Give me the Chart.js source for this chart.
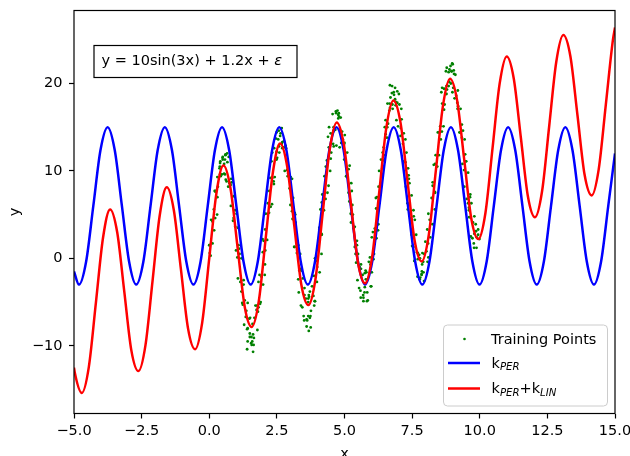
<!DOCTYPE html>
<html><head><meta charset="utf-8">
<script src="https://cdn.jsdelivr.net/npm/chart.js@4"></script>
<style>html,body{margin:0;padding:0;background:#fff}</style>
</head><body>
<canvas id="c" width="630" height="456" style="width:630px;height:456px;display:block"></canvas>
<script>
const xTicks = [-5, -2.5, 0, 2.5, 5, 7.5, 10, 12.5, 15];
const yTicks = [-10, 0, 10, 20];

const perX = [-5, -4.815, -4.551, -4.286, -4.022, -3.757, -3.493, -3.229, -2.964, -2.700, -2.435, -2.171, -1.907, -1.642, -1.378, -1.114, -0.849, -0.585, -0.320, -0.056, 0.209, 0.473, 0.737, 1.002, 1.266, 1.531, 1.795, 2.059, 2.324, 2.588, 2.853, 3.117, 3.381, 3.646, 3.910, 4.175, 4.439, 4.703, 4.968, 5.232, 5.497, 5.761, 6.025, 6.290, 6.554, 6.819, 7.083, 7.347, 7.612, 7.876, 8.141, 8.405, 8.669, 8.934, 9.198, 9.463, 9.727, 9.991, 10.256, 10.520, 10.785, 11.049, 11.313, 11.578, 11.842, 12.107, 12.371, 12.635, 12.900, 13.164, 13.429, 13.693, 13.957, 14.222, 14.486, 14.751, 15];
const perY = [-1.5,
  -3.0, -0.36, 6, 12.36, 15, 12.36, 6, -0.36,
  -3.0, -0.36, 6, 12.36, 15, 12.36, 6, -0.36,
  -3.0, -0.36, 6, 12.36, 15, 12.36, 6, -0.36,
  -3.0, -0.36, 6, 12.36, 15, 12.36, 6, -0.36,
  -3.0, -0.36, 6, 12.36, 15, 12.36, 6, -0.36,
  -3.0, -0.36, 6, 12.36, 15, 12.36, 6, -0.36,
  -3.0, -0.36, 6, 12.36, 15, 12.36, 6, -0.36,
  -3.0, -0.36, 6, 12.36, 15, 12.36, 6, -0.36,
  -3.0, -0.36, 6, 12.36, 15, 12.36, 6, -0.36,
  -3.0, -0.36, 6,
  12.0];

const linX = [-5, -4.974, -4.712, -4.451, -4.189, -3.927, -3.665, -3.403, -3.142, -2.880, -2.618, -2.356, -2.094, -1.833, -1.571, -1.309, -1.047, -0.785, -0.524, -0.262, 0, 0.262, 0.524, 0.785, 1.047, 1.309, 1.571, 1.833, 2.094, 2.356, 2.618, 2.880, 3.142, 3.403, 3.665, 3.927, 4.189, 4.451, 4.712, 4.974, 5.236, 5.498, 5.760, 6.021, 6.283, 6.545, 6.807, 7.069, 7.330, 7.592, 7.854, 8.116, 8.378, 8.639, 8.901, 9.163, 9.425, 9.687, 9.948, 10.210, 10.472, 10.734, 10.996, 11.257, 11.519, 11.781, 12.043, 12.305, 12.566, 12.828, 13.090, 13.352, 13.614, 13.875, 14.137, 14.399, 14.661, 14.923, 15];
const linY = [-12.50, -13.04, -15.4, -12.41, -5.03, 2.36, 5.60, 2.99, -3.77, -10.53, -12.9, -9.90, -2.51, 4.87, 8.12, 5.50, -1.26, -8.01, -10.4, -7.38, 0, 7.38, 10.63, 8.01, 1.26, -5.50, -7.85, -4.87, 2.51, 9.90, 13.14, 10.53, 3.77, -2.99, -5.35, -2.36, 5.03, 12.41, 15.55, 13.04, 6.28, -0.47, -2.85, 0.16, 7.54, 14.92, 18.05, 15.55, 8.80, 2.04, -0.35, 2.67, 10.05, 17.44, 20.55, 18.07, 11.31, 4.55, 2.2, 5.18, 12.57, 19.95, 23.1, 20.58, 13.82, 7.07, 4.7, 7.70, 15.08, 22.46, 25.55, 23.09, 16.34, 9.58, 7.2, 10.21, 17.59, 24.98, 26.4];

const trainX = [
  0.05,0.00,0.22,0.17,0.32,0.24,0.41,0.40,0.60,0.55,0.72,0.64,0.83,0.80,1.01,0.96,0.99,1.19,1.15,1.31,1.22,1.42,1.40,1.57,1.50,1.67,1.62,1.82,1.77,1.99,1.93,2.07,
  2.14,2.09,2.32,2.26,2.42,2.33,2.51,2.49,2.70,2.64,2.82,2.73,2.92,2.90,3.10,3.06,3.08,3.29,3.24,3.41,3.31,3.52,3.49,3.66,3.60,3.76,3.72,3.91,3.87,4.08,4.03,4.16,
  4.24,4.18,4.41,4.35,4.51,4.43,4.60,4.59,4.79,4.74,4.91,4.83,5.01,4.99,5.19,5.15,5.18,5.38,5.34,5.50,5.41,5.61,5.59,5.75,5.69,5.86,5.81,6.01,5.96,6.18,6.12,6.26,
  6.33,6.28,6.50,6.45,6.61,6.52,6.70,6.68,6.89,6.83,7.01,6.92,7.11,7.08,7.29,7.25,7.27,7.48,7.43,7.60,7.50,7.71,7.68,7.85,7.78,7.95,7.91,8.10,8.06,8.27,8.22,8.35,
  8.43,8.37,8.60,8.54,8.70,8.61,8.79,8.78,8.98,8.93,9.10,9.02,9.20,9.18,9.38,9.34,9.36,9.57,9.52,9.69,9.60,9.80,9.78,9.94,9.88,
  0.01,0.18,0.12,0.30,0.20,0.39,0.38,0.58,0.49,0.66,0.61,0.81,0.79,0.96,0.90,1.08,1.12,1.06,1.27,1.24,1.42,1.35,1.56,1.51,1.65,1.59,1.80,1.75,1.90,1.86,2.06,1.97,
  2.07,2.27,2.22,2.39,2.30,2.49,2.47,2.68,2.58,2.76,2.70,2.91,2.88,3.06,3.00,3.18,3.22,3.15,3.37,3.33,3.52,3.44,3.66,3.60,3.75,3.68,3.90,3.85,3.99,3.96,4.15,4.07,
  4.16,4.37,4.31,4.49,4.39,4.58,4.56,4.77,4.68,4.85,4.80,5.00,4.98,5.15,5.09,5.27,5.31,5.24,5.46,5.43,5.61,5.54,5.75,5.70,5.84,5.78,5.99,5.94,6.09,6.05,6.25,6.16,
  6.26,6.46,6.41,6.58,6.49,6.67,6.66,6.87,6.77,6.95,6.89,7.10,7.07,7.25,7.18,7.37,7.40,7.34,7.56,7.52,7.71,7.63,7.85,7.79,7.94,7.87,8.09,8.03,8.18,8.15,8.34,8.26,
  8.35,8.56,8.50,8.68,8.58,8.77,8.75,8.96,8.87,9.04,8.99,9.19,9.17,9.34,9.28,9.46,9.50,9.43,9.65,9.61,9.80,9.73,9.94,9.89,
  1.40,1.62,1.55,1.50,3.68,3.62,3.72,3.66,4.60,4.70,4.82,5.70,5.74,8.92,8.85,9.00,6.82,6.75,2.62,2.55,0.50,0.55,7.80,7.86,9.85,9.60,0.42,0.60,
  0.02,0.12,0.07,0.29,0.23,0.40,0.30,0.50,0.47,0.67,0.58,0.75,0.70,0.91,0.88,1.06,1.10,1.04,1.27,1.19,1.37,1.29,1.48,1.42,1.64,1.60,1.78,1.71,1.88,1.82,2.05,1.98,
  2.01,2.21,2.17,2.38,2.33,2.49,2.40,2.59,2.57,2.76,2.68,2.84,2.79,3.01,2.97,3.16,3.19,3.14,3.36,3.29,3.46,3.39,3.57,3.51,3.74,3.69,3.88,3.80,3.98,3.91,4.15,4.07,
  4.11,4.30,4.26,4.47,4.42,4.59,4.49,4.69,4.66,4.86,4.77,4.94,4.88,5.10,5.06,5.25,5.29,5.23,5.46,5.38,5.56,5.48,5.67,5.60,5.83,5.79,5.97,5.90,6.07,6.01,6.24,6.17,
  6.20,6.40,6.35,6.57,6.52,6.68,6.59,6.78,6.76,6.95,6.87,7.03,6.98,7.19,7.16,7.35,7.38,7.33,7.55,7.48,7.65,7.58,7.76,7.70,7.92,7.88,8.07,7.99,8.17,8.10,8.34,8.26,
  8.30,8.49,8.45,8.66,8.61,8.77,8.68,8.88,8.85,9.05,8.96,9.13,9.07,9.29,9.25,9.44,9.47,9.42,9.64,9.57,9.75,9.67,9.86,9.79,9.99
];
const trainY = [
  0.3,1.5,4.6,5.6,8.2,7.6,11.1,10.9,11.8,9.7,11.6,8.8,8.7,6.0,5.1,3.6,0.9,0.0,-2.7,-4.8,-5.1,-8.0,-8.1,-9.9,-9.0,-6.8,-8.7,-5.6,-5.4,-3.0,-2.1,0.9,
  2.1,5.1,6.2,9.2,9.3,12.1,11.5,14.4,12.6,14.3,12.9,12.7,9.7,9.4,6.9,5.4,4.5,1.5,0.6,-1.4,-3.9,-3.4,-6.6,-5.0,-7.8,-6.0,-3.8,-4.9,-2.0,-1.6,1.5,2.7,
  5.5,7.3,8.3,11.2,12.1,15.0,15.0,14.5,16.6,16.9,14.5,14.7,14.1,11.3,10.6,7.5,6.5,3.6,3.4,0.5,0.5,-1.2,-3.7,-1.7,-4.2,-4.8,-1.6,-1.6,-0.7,2.3,3.4,6.2,
  7.3,10.0,11.8,12.7,15.4,15.8,18.4,19.8,17.9,18.7,18.8,15.8,15.9,14.9,12.1,11.0,8.2,7.2,4.6,4.4,1.4,-0.1,0.7,-1.9,-2.4,0.5,-0.4,0.1,3.3,3.9,6.9,7.5,
  10.5,11.8,14.5,15.1,17.6,19.5,19.3,21.8,22.3,20.0,21.0,19.5,17.4,17.1,14.6,13.8,10.8,9.8,6.8,6.3,5.5,2.8,1.7,2.7,1.2,
  1.5,3.2,4.2,7.0,7.7,10.5,10.3,9.6,11.5,12.0,9.0,9.1,8.4,5.5,4.6,1.5,0.5,-2.3,-2.5,-5.3,-5.1,-6.7,-9.0,-6.8,-9.1,-9.5,-6.1,-5.9,-5.0,-1.9,-0.7,2.2,
  3.3,5.9,7.7,8.5,11.1,11.3,13.7,14.9,12.8,13.4,13.3,10.2,10.1,9.1,6.1,5.0,2.2,1.3,-1.2,-1.4,-4.2,-5.6,-4.6,-7.0,-7.9,-4.2,-4.9,-4.3,-1.0,-0.3,2.8,3.5,
  6.4,7.5,10.5,11.4,13.9,13.1,16.5,16.0,16.8,14.5,16.2,13.2,13.0,10.2,9.3,7.7,5.0,4.1,1.5,-0.5,-0.7,-3.4,-3.3,-4.9,-3.9,-1.4,-3.2,0.1,0.5,3.0,3.9,6.9,
  8.2,11.2,12.1,15.0,15.0,17.7,16.9,19.5,17.6,19.1,17.5,17.1,14.0,13.6,11.1,9.5,8.6,5.6,4.8,3.0,0.6,1.3,-1.8,0.0,-2.6,-0.7,1.7,0.8,3.9,4.4,7.6,8.7,
  10.8,13.6,14.4,17.0,19.0,18.8,21.4,21.4,20.2,21.5,19.0,19.2,17.8,15.3,14.4,11.9,11.1,8.2,7.3,4.7,4.8,2.3,3.3,2.4,
  -10.4,-10.7,-9.7,-8.6,-8.3,-7.1,-6.8,-6.6,12.8,12.9,12.7,-4.5,-3.9,22.0,21.3,22.2,19.0,18.9,14.0,13.6,11.3,10.8,-2.2,-1.5,3.9,5.8,9.4,11.9,
  0.6,1.7,4.4,5.0,7.7,9.6,9.3,11.6,9.6,11.0,11.3,8.6,8.2,7.1,4.3,3.5,1.1,0.1,-3.0,-3.8,-6.0,-7.6,-6.9,-9.5,-9.9,-7.5,-8.2,-5.4,-5.2,-2.7,-1.9,0.7,
  2.0,5.2,6.3,8.8,9.2,12.2,12.6,12.1,14.6,12.7,13.1,12.6,10.0,9.3,8.0,5.2,4.1,1.3,0.5,-2.4,-2.3,-5.4,-4.6,-7.1,-6.6,-4.4,-5.4,-3.2,-2.7,0.0,0.5,3.3,
  5.6,6.8,9.4,10.0,12.7,14.6,14.3,16.6,14.7,16.1,16.4,13.6,13.2,12.1,9.4,8.6,6.1,5.1,2.0,1.3,-1.0,-2.5,-1.9,-4.5,-4.9,-2.4,-3.2,-0.4,-0.1,2.4,3.2,5.7,
  7.0,10.3,11.3,13.8,14.2,17.2,17.7,17.1,19.7,17.8,18.2,17.6,15.1,14.3,13.1,10.3,9.1,6.3,5.5,2.7,2.7,-0.3,0.4,-2.1,-1.6,0.6,-0.4,1.9,2.4,5.1,5.6,8.3,
  10.7,11.8,14.4,15.1,17.7,19.7,19.4,21.6,19.7,21.1,21.4,18.6,18.3,17.1,14.4,13.6,11.1,10.1,7.0,6.3,4.1,2.5,3.1,1.2,2.2
];

const FONT = '"DejaVu Sans", sans-serif';
const FS = 14.5;
const SUB = 10.2;
Chart.defaults.font.family = FONT;
Chart.defaults.font.size = FS;
Chart.defaults.color = '#000';

const pts = (xs, ys) => xs.map((x, i) => ({x: x, y: ys[i]}));
const minus = s => String(s).replace('-', '\u2212');

function drawParts(ctx, x, y, parts) {
  let cx = x;
  for (const [t, sub] of parts) {
    ctx.font = sub ? `italic ${SUB}px ${FONT}` : `${FS}px ${FONT}`;
    ctx.fillText(t, cx, sub ? y + 2.6 : y);
    cx += ctx.measureText(t).width;
  }
}

const decor = {
  id: 'decor',
  afterDatasetsDraw(chart) {
    const {ctx, chartArea: a} = chart;
    ctx.save();
    ctx.strokeStyle = '#000';
    ctx.lineWidth = 1.2;
    ctx.strokeRect(a.left, a.top, a.right - a.left, a.bottom - a.top);
    ctx.restore();
  },
  afterDraw(chart) {
    const {ctx, chartArea: a} = chart;
    ctx.save();
    const bx = a.left + 20, by = a.top + 35;
    ctx.fillStyle = '#fff';
    ctx.fillRect(bx, by, 203, 32);
    ctx.strokeStyle = '#000';
    ctx.lineWidth = 1.2;
    ctx.strokeRect(bx, by, 203, 32);
    ctx.fillStyle = '#000';
    ctx.textBaseline = 'alphabetic';
    ctx.textAlign = 'left';
    ctx.font = `${FS}px ${FONT}`;
    const main = 'y = 10sin(3x) + 1.2x + ';
    ctx.fillText(main, bx + 7.5, by + 19.5);
    const w = ctx.measureText(main).width;
    ctx.font = `italic ${FS}px ${FONT}`;
    ctx.fillText('\u03B5', bx + 7.5 + w, by + 19.5);

    const lx = a.right - 172, ly = a.bottom - 89, lw = 164, lh = 81;
    ctx.beginPath();
    ctx.roundRect(lx + 0.5, ly + 0.5, lw, lh, 4);
    ctx.fillStyle = 'rgba(255,255,255,0.8)';
    ctx.fill();
    ctx.strokeStyle = '#cccccc';
    ctx.lineWidth = 1;
    ctx.stroke();

    const rows = [ly + 14.5, ly + 38.5, ly + 64];
    ctx.fillStyle = '#008000';
    ctx.beginPath();
    ctx.arc(lx + 21.5, rows[0], 1.3, 0, Math.PI * 2);
    ctx.fill();
    ctx.lineWidth = 2.5;
    ctx.strokeStyle = '#0000ff';
    ctx.beginPath(); ctx.moveTo(lx + 5, rows[1]); ctx.lineTo(lx + 37, rows[1]); ctx.stroke();
    ctx.strokeStyle = '#ff0000';
    ctx.beginPath(); ctx.moveTo(lx + 5, rows[2]); ctx.lineTo(lx + 37, rows[2]); ctx.stroke();

    ctx.fillStyle = '#000';
    ctx.font = `${FS}px ${FONT}`;
    ctx.fillText('Training Points', lx + 48, rows[0] + 5);
    drawParts(ctx, lx + 48.5, rows[1] + 4.5, [['k', false], ['PER', true]]);
    drawParts(ctx, lx + 48.5, rows[2] + 4.5, [['k', false], ['PER', true], ['+', false], ['k', false], ['LIN', true]]);
    ctx.restore();
  }
};

new Chart(document.getElementById('c'), {
  type: 'line',
  data: {
    datasets: [
      {label: 'kPER+kLIN', data: pts(linX, linY), borderColor: '#ff0000', borderWidth: 2.5,
       pointRadius: 0, cubicInterpolationMode: 'monotone', fill: false, clip: 0, order: 1},
      {label: 'kPER', data: pts(perX, perY), borderColor: '#0000ff', borderWidth: 2.5,
       pointRadius: 0, cubicInterpolationMode: 'monotone', fill: false, clip: 0, order: 2},
      {label: 'Training Points', data: pts(trainX, trainY), showLine: false,
       backgroundColor: '#008000', borderColor: '#008000', borderWidth: 0,
       pointRadius: 1.4, pointStyle: 'circle', order: 3}
    ]
  },
  options: {
    responsive: false,
    animation: false,
    devicePixelRatio: 1,
    events: [],
    layout: {padding: {left: 0, right: 15, top: 10.5, bottom: 0}},
    plugins: {legend: {display: false}, tooltip: {enabled: false}},
    scales: {
      x: {
        type: 'linear', min: -5, max: 15,
        afterBuildTicks: s => { s.ticks = xTicks.map(v => ({value: v})); },
        afterFit: s => { s.height = 42.5; s.paddingLeft = 0; s.paddingRight = 0; },
        ticks: {padding: 4, maxRotation: 0, autoSkip: false, callback: v => minus(v.toFixed(1))},
        grid: {display: true, drawOnChartArea: false, drawTicks: true, tickLength: 5, tickColor: '#000', tickWidth: 1.2},
        border: {display: false},
        title: {display: true, text: 'x', padding: {top: 0, bottom: -7}, font: {size: FS}}
      },
      y: {
        type: 'linear', min: -17.75, max: 28.35,
        afterBuildTicks: s => { s.ticks = yTicks.map(v => ({value: v})); },
        afterFit: s => { s.width = 74; s.paddingTop = 0; s.paddingBottom = 0; },
        ticks: {padding: 6.5, autoSkip: false, callback: v => minus(v)},
        grid: {display: true, drawOnChartArea: false, drawTicks: true, tickLength: 5, tickColor: '#000', tickWidth: 1.2},
        border: {display: false},
        title: {display: true, text: 'y', padding: {top: 7, bottom: 0}, font: {size: FS}}
      }
    }
  },
  plugins: [decor]
});
</script>
</body></html>
